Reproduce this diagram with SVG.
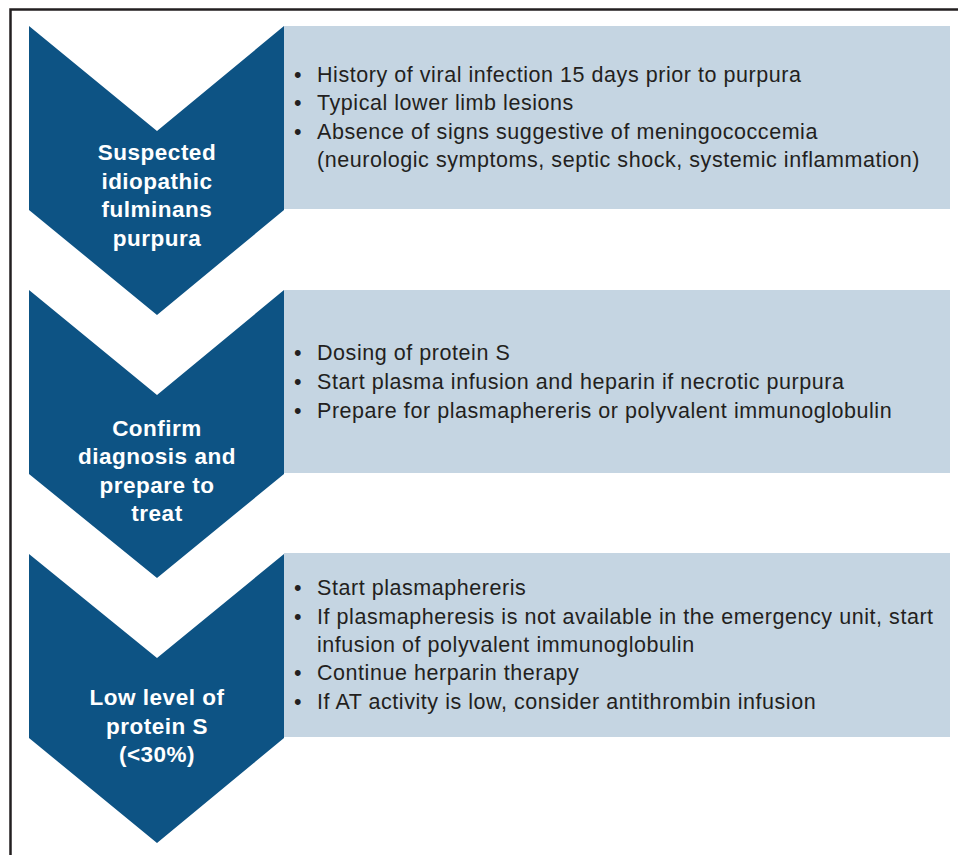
<svg xmlns="http://www.w3.org/2000/svg" width="958" height="855" viewBox="0 0 958 855">
<style>
.chev{fill:#0d5384}
.box{fill:#c5d5e2}
.lbl{font-family:"Liberation Sans",Arial,sans-serif;font-weight:bold;font-size:22.5px;fill:#ffffff;text-anchor:middle;letter-spacing:0.5px}
.txt{font-family:"Liberation Sans",Arial,sans-serif;font-size:21.5px;fill:#231f20;letter-spacing:0.55px}
.frame{fill:none;stroke:#231f20;stroke-width:2.5}
</style>
<rect width="958" height="855" fill="#ffffff"/>
<path class="frame" d="M10.5,855 V9.5 H958"/>
<g id="step1">
<rect class="box" x="284" y="26" width="666" height="183"/>
<polygon class="chev" points="29,26 157,131 284,26 284,210 157,315 29,210"/>
<text class="lbl"><tspan x="157" y="160">Suspected</tspan><tspan x="157" y="188.5">idiopathic</tspan><tspan x="157" y="217">fulminans</tspan><tspan x="157" y="245.5">purpura</tspan></text>
<text class="txt"><tspan x="294" y="81.5">•</tspan><tspan x="317" y="81.5">History of viral infection 15 days prior to purpura</tspan><tspan x="294" y="110">•</tspan><tspan x="317" y="110">Typical lower limb lesions</tspan><tspan x="294" y="138.5">•</tspan><tspan x="317" y="138.5">Absence of signs suggestive of meningococcemia</tspan><tspan x="317" y="167">(neurologic symptoms, septic shock, systemic inflammation)</tspan></text>
</g>
<g id="step2">
<rect class="box" x="284" y="290" width="666" height="183"/>
<polygon class="chev" points="29,290 157,395 284,290 284,474 157,578 29,474"/>
<text class="lbl"><tspan x="157" y="435.5">Confirm</tspan><tspan x="157" y="464">diagnosis and</tspan><tspan x="157" y="492.5">prepare to</tspan><tspan x="157" y="521">treat</tspan></text>
<text class="txt"><tspan x="294" y="360">•</tspan><tspan x="317" y="360">Dosing of protein S</tspan><tspan x="294" y="389">•</tspan><tspan x="317" y="389">Start plasma infusion and heparin if necrotic purpura</tspan><tspan x="294" y="418">•</tspan><tspan x="317" y="418">Prepare for plasmaphereris or polyvalent immunoglobulin</tspan></text>
</g>
<g id="step3">
<rect class="box" x="284" y="553" width="666" height="184"/>
<polygon class="chev" points="29,554 157,658 284,554 284,738 157,843 29,738"/>
<text class="lbl"><tspan x="157" y="705">Low level of</tspan><tspan x="157" y="734">protein S</tspan><tspan x="157" y="762">(&lt;30%)</tspan></text>
<text class="txt"><tspan x="294" y="595">•</tspan><tspan x="317" y="595">Start plasmaphereris</tspan><tspan x="294" y="623.5">•</tspan><tspan x="317" y="623.5">If plasmapheresis is not available in the emergency unit, start</tspan><tspan x="317" y="652">infusion of polyvalent immunoglobulin</tspan><tspan x="294" y="680">•</tspan><tspan x="317" y="680">Continue herparin therapy</tspan><tspan x="294" y="708.5">•</tspan><tspan x="317" y="708.5">If AT activity is low, consider antithrombin infusion</tspan></text>
</g>
<g id="connectors"></g>
</svg>
